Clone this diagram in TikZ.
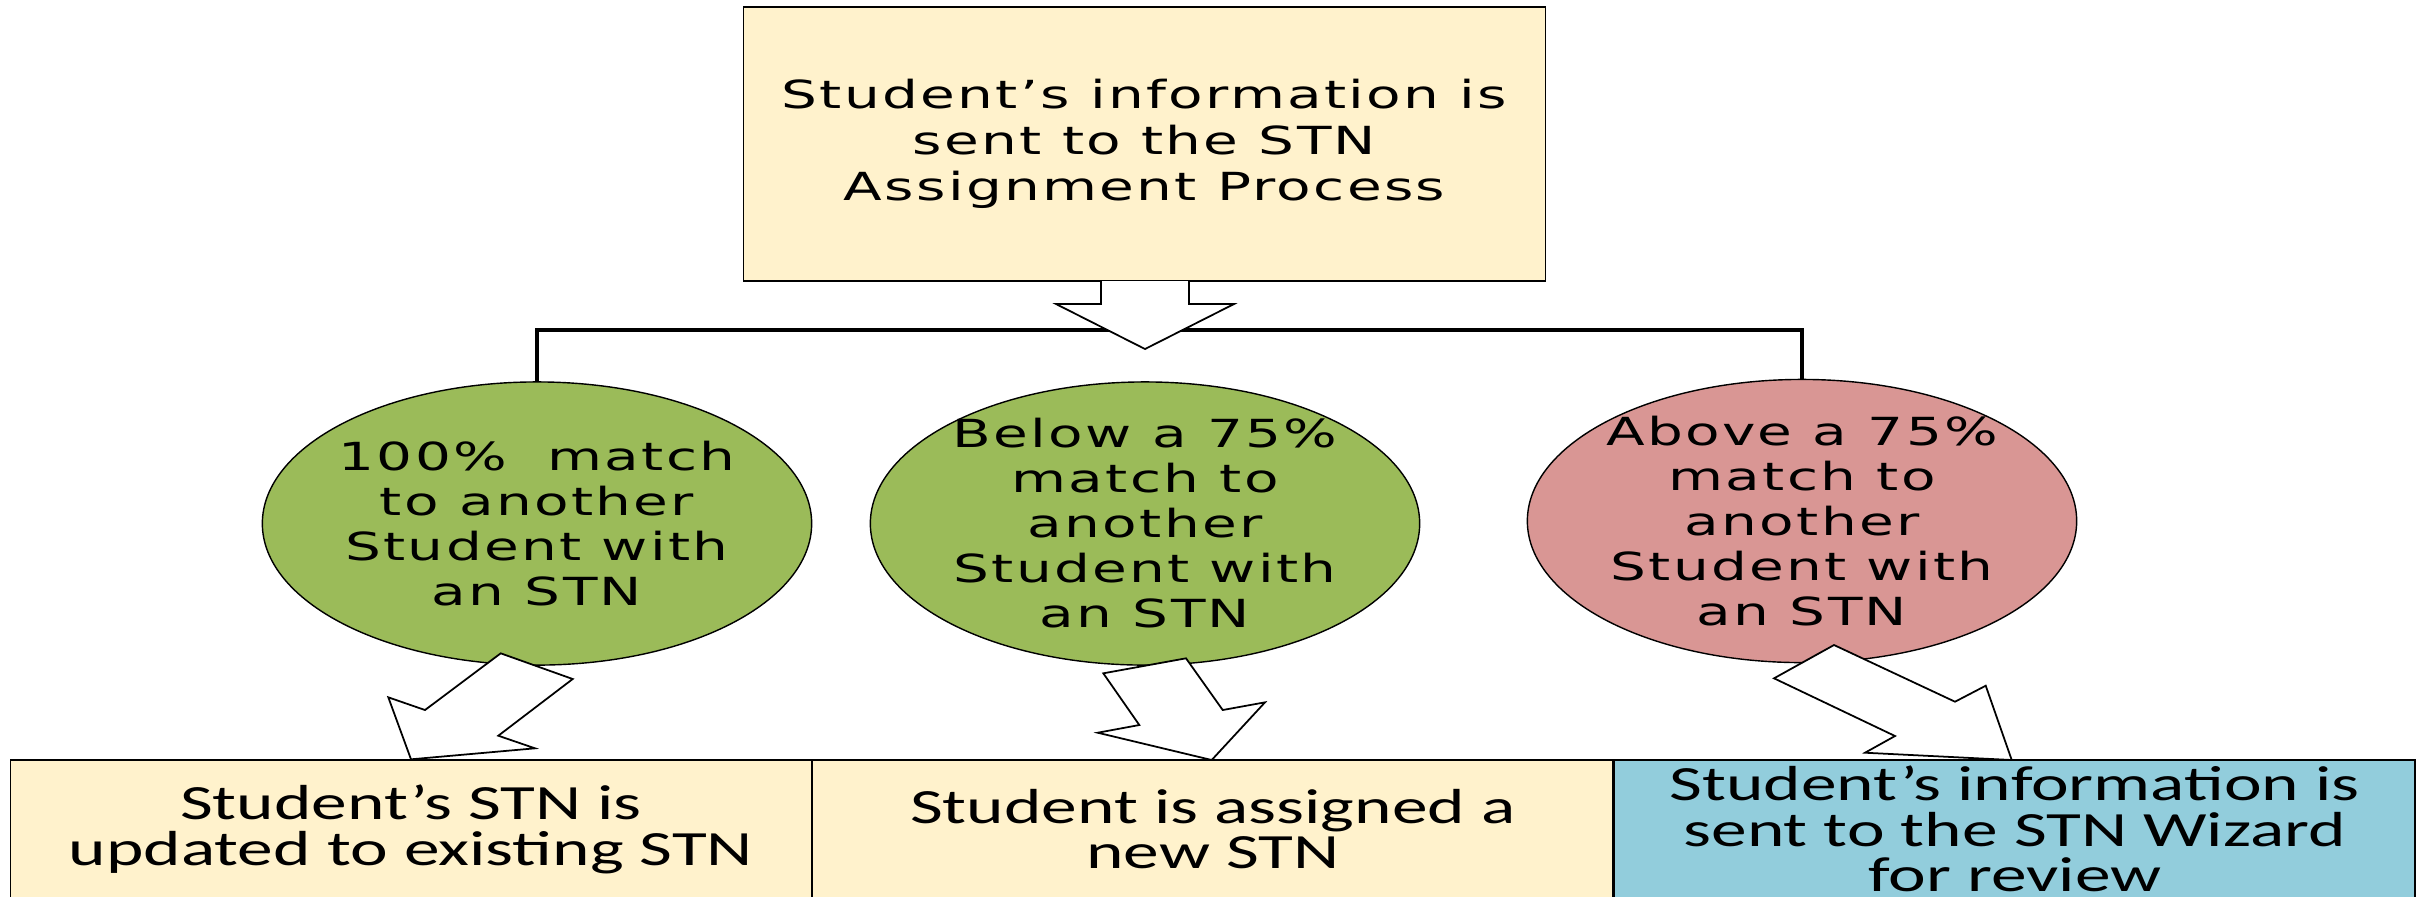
\documentclass[tikz,border=0pt]{standalone}
\usepackage{fontspec}
\usepackage{tikz}
\usetikzlibrary{shapes.geometric, positioning}

\newfontfamily\wideface[FakeStretch=1.46,LetterSpace=6]{DejaVu Sans}
\newfontfamily\boxface[FakeStretch=1.45]{Carlito}

\definecolor{paleyellow}{HTML}{FFF2CC}
\definecolor{matchgreen}{HTML}{9BBB59}
\definecolor{matchred}{HTML}{D99694}
\definecolor{wizardblue}{HTML}{92CDDC}

\tikzset{
    topbox/.style = {draw, line width = 0.4pt, fill = paleyellow, minimum width = 8.01cm,
        minimum height = 2.74cm, align = center, font = \wideface\fontsize{11}{13}\selectfont},
    matchblob/.style = {ellipse, draw, line width = 0.4pt, minimum width = 5.49cm,
        minimum height = 2.83cm, inner sep = -0.5cm, align = center,
        font = \wideface\fontsize{11}{12.8}\selectfont},
    resultbox/.style = {draw, line width = 0.4pt, minimum width = 8.0cm, minimum height = 1.38cm,
        inner sep = 0pt, align = center, font = \boxface\fontsize{14}{13}\selectfont},
    blockarrow/.style = {draw, fill = white, line width = 0.5pt, line join = miter}
}

\begin{document}
\begin{tikzpicture}[x = 0.01cm, y = -0.01cm]
                \clip (0,0) rectangle (2425,896);
                \node[topbox] (info) at (1144.5,144) {Student’s information is\\sent to the STN\\Assignment Process};

                \node[matchblob, fill = matchgreen] (fullmatch) at (537,523.5) {100\%\ \ match\\to another\\Student with\\an STN};
                \node[matchblob, fill = matchgreen] (lowmatch) at (1145,523.5) {Below a 75\%\\match to\\another\\Student with\\an STN};
                \node[matchblob, fill = matchred] (highmatch) at (1802,521) {Above a 75\%\\match to\\another\\Student with\\an STN};

                \node[resultbox, fill = paleyellow] (updated) at (411,829) {Student’s STN is\\updated to existing STN};
                \node[resultbox, fill = paleyellow, right = 0pt of updated] (newstn) {Student is assigned a\\new STN};
                \node[resultbox, fill = wizardblue, right = 0pt of newstn] (wizard) {Student’s information is\\sent to the STN Wizard\\for review};

                % fork from the top box to the three results
                \coordinate (fork) at (1145,330);
                \draw[line width = 1.2pt] (fullmatch.north) |- (fork) -| (highmatch.north);

                % hollow arrows
                \draw[blockarrow] (1101,281) -- (1101,304) -- (1056,304) -- (1145,349) -- (1234,304) -- (1189,304) -- (1189,281);
                \draw[blockarrow] (500.7,653.3) -- (572.7,679) -- (498.3,735.7) -- (535,748.3) -- (411,759.3) -- (388.3,697.3) -- (425,710) -- cycle;
                \draw[blockarrow] (1103.3,673.3) -- (1186,658.3) -- (1222.7,710) -- (1265,702.3) -- (1211.7,760) -- (1097.7,732.7) -- (1139.3,725) -- cycle;
                \draw[blockarrow] (1774,678.3) -- (1834,645) -- (1955,701.7) -- (1985.7,685.7) -- (2011.7,760) -- (1865,752.7) -- (1895,736) -- cycle;

            \end{tikzpicture}
\end{document}
